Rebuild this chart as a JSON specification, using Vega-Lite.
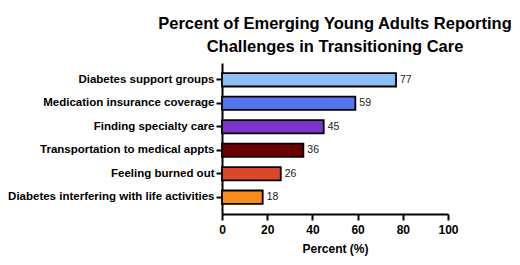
{
  "$schema": "https://vega.github.io/schema/vega-lite/v6.json",
  "width": 226,
  "height": 151,
  "autosize": {"type": "none"},
  "padding": {"left": 222, "top": 63, "right": 72, "bottom": 51},
  "background": "white",
  "title": {
    "text": ["Percent of Emerging Young Adults Reporting", "Challenges in Transitioning Care"],
    "font": "Liberation Sans",
    "fontSize": 16.5,
    "fontWeight": "bold",
    "color": "black",
    "anchor": "middle",
    "lineHeight": 23,
    "offset": 8
  },
  "data": {
    "values": [
      {"challenge": "Diabetes support groups", "percent": 77, "color": "#8DBEF5"},
      {"challenge": "Medication insurance coverage", "percent": 59, "color": "#5574F0"},
      {"challenge": "Finding specialty care", "percent": 45, "color": "#7B35C8"},
      {"challenge": "Transportation to medical appts", "percent": 36, "color": "#6A0000"},
      {"challenge": "Feeling burned out", "percent": 26, "color": "#D9482A"},
      {"challenge": "Diabetes interfering with life activities", "percent": 18, "color": "#F98C1C"}
    ]
  },
  "encoding": {
    "y": {
      "field": "challenge",
      "type": "nominal",
      "sort": null,
      "scale": {"paddingInner": 0.43, "paddingOuter": 0.43},
      "axis": {
        "title": null,
        "labelFont": "Liberation Sans",
        "labelFontSize": 11.5,
        "labelFontWeight": "bold",
        "labelColor": "black",
        "labelPadding": 2,
        "labelLimit": 300,
        "domainColor": "black",
        "domainWidth": 2,
        "tickColor": "black",
        "tickWidth": 2,
        "tickSize": 6,
        "grid": false
      }
    },
    "x": {
      "field": "percent",
      "type": "quantitative",
      "scale": {"domain": [0, 100], "nice": false},
      "axis": {
        "title": "Percent (%)",
        "values": [0, 20, 40, 60, 80, 100],
        "titleFont": "Liberation Sans",
        "titleFontSize": 12,
        "titleFontWeight": "bold",
        "titleColor": "black",
        "titlePadding": 8,
        "labelFont": "Liberation Sans",
        "labelFontSize": 12,
        "labelFontWeight": "bold",
        "labelColor": "black",
        "labelPadding": 4,
        "labelFlush": false,
        "domainColor": "black",
        "domainWidth": 2,
        "tickColor": "black",
        "tickWidth": 2,
        "tickSize": 6,
        "grid": false
      }
    }
  },
  "layer": [
    {
      "mark": {"type": "bar", "stroke": "black", "strokeWidth": 1.8},
      "encoding": {
        "color": {"field": "color", "type": "nominal", "scale": null, "legend": null}
      }
    },
    {
      "mark": {"type": "text", "align": "left", "baseline": "middle", "dx": 4, "font": "Liberation Sans", "fontSize": 10.5, "color": "#222"},
      "encoding": {
        "text": {"field": "percent", "type": "quantitative"}
      }
    }
  ],
  "config": {"view": {"stroke": null}}
}
